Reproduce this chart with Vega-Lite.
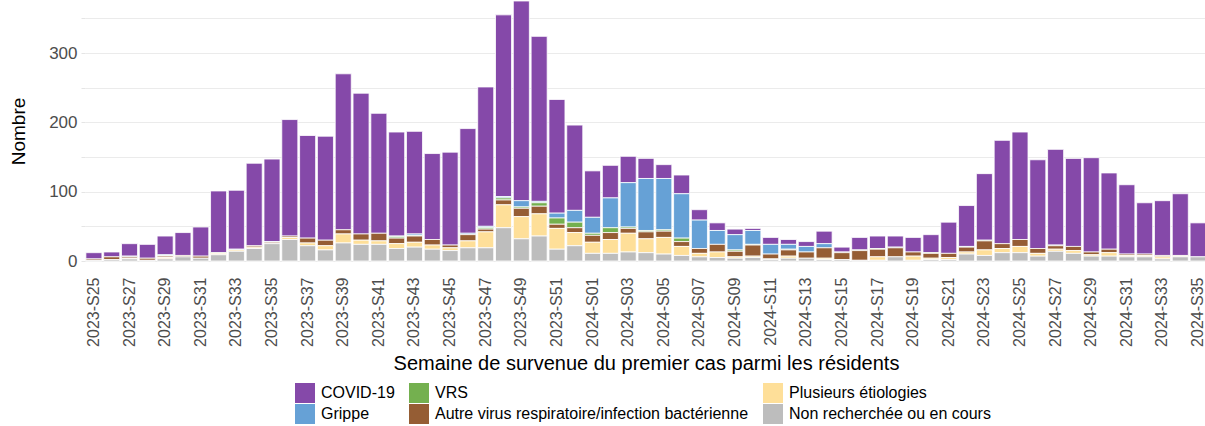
{
  "$schema": "https://vega.github.io/schema/vega-lite/v6.json",
  "width": 1122,
  "height": 260,
  "padding": {"left": 9, "top": 0, "right": 1, "bottom": 0},
  "background": "white",
  "config": {
    "font": "Liberation Sans",
    "view": {"stroke": null}
  },
  "data": {
    "values": [
      {"s": "2023-S25", "cov": 9, "aut": 2, "non": 1},
      {"s": "2023-S26", "cov": 7, "aut": 4, "non": 2},
      {"s": "2023-S27", "cov": 18, "gri": 1, "aut": 2, "plu": 1, "non": 3},
      {"s": "2023-S28", "cov": 20, "aut": 3, "non": 1},
      {"s": "2023-S29", "cov": 27, "gri": 1, "vrs": 1, "aut": 2, "plu": 2, "non": 3},
      {"s": "2023-S30", "cov": 33, "aut": 2, "non": 6},
      {"s": "2023-S31", "cov": 42, "aut": 3, "non": 4},
      {"s": "2023-S32", "cov": 89, "vrs": 1, "plu": 2, "non": 9},
      {"s": "2023-S33", "cov": 85, "gri": 1, "plu": 2, "non": 14},
      {"s": "2023-S34", "cov": 119, "aut": 2, "plu": 2, "non": 18},
      {"s": "2023-S35", "cov": 119, "gri": 1, "aut": 2, "non": 25},
      {"s": "2023-S36", "cov": 168, "aut": 2, "plu": 3, "non": 31},
      {"s": "2023-S37", "cov": 148, "aut": 7, "plu": 4, "non": 22},
      {"s": "2023-S38", "cov": 150, "aut": 8, "plu": 6, "non": 16},
      {"s": "2023-S39", "cov": 225, "aut": 6, "plu": 13, "non": 26},
      {"s": "2023-S40", "cov": 203, "aut": 9, "plu": 6, "non": 24},
      {"s": "2023-S41", "cov": 173, "aut": 11, "plu": 5, "non": 24},
      {"s": "2023-S42", "cov": 150, "gri": 1, "vrs": 2, "aut": 8, "plu": 7, "non": 18},
      {"s": "2023-S43", "cov": 148, "gri": 2, "vrs": 1, "aut": 9, "plu": 7, "non": 20},
      {"s": "2023-S44", "cov": 124, "aut": 8, "plu": 6, "non": 17},
      {"s": "2023-S45", "cov": 134, "aut": 4, "plu": 4, "non": 15},
      {"s": "2023-S46", "cov": 151, "gri": 2, "aut": 9, "plu": 10, "non": 19},
      {"s": "2023-S47", "cov": 201, "gri": 2, "vrs": 2, "aut": 4, "plu": 23, "non": 19},
      {"s": "2023-S48", "cov": 262, "gri": 2, "vrs": 3, "aut": 7, "plu": 33, "non": 48},
      {"s": "2023-S49", "cov": 288, "gri": 9, "vrs": 2, "aut": 12, "plu": 32, "non": 32},
      {"s": "2023-S50", "cov": 238, "gri": 2, "vrs": 5, "aut": 11, "plu": 32, "non": 36},
      {"s": "2023-S51", "cov": 164, "gri": 7, "vrs": 9, "aut": 6, "plu": 30, "non": 17},
      {"s": "2023-S52", "cov": 123, "gri": 17, "vrs": 8, "aut": 7, "plu": 19, "non": 22},
      {"s": "2024-S01", "cov": 67, "gri": 23, "vrs": 3, "aut": 10, "plu": 16, "non": 11},
      {"s": "2024-S02", "cov": 47, "gri": 43, "vrs": 7, "aut": 10, "plu": 20, "non": 11},
      {"s": "2024-S03", "cov": 38, "gri": 64, "vrs": 2, "aut": 7, "plu": 27, "non": 13},
      {"s": "2024-S04", "cov": 29, "gri": 75, "vrs": 2, "aut": 10, "plu": 20, "non": 12},
      {"s": "2024-S05", "cov": 20, "gri": 74, "vrs": 2, "aut": 9, "plu": 24, "non": 10},
      {"s": "2024-S06", "cov": 27, "gri": 64, "vrs": 5, "aut": 7, "plu": 13, "non": 8},
      {"s": "2024-S07", "cov": 15, "gri": 41, "aut": 7, "plu": 5, "non": 6},
      {"s": "2024-S08", "cov": 11, "gri": 20, "aut": 11, "plu": 8, "non": 5},
      {"s": "2024-S09", "cov": 8, "gri": 22, "vrs": 2, "aut": 8, "plu": 2, "non": 4},
      {"s": "2024-S10", "cov": 3, "gri": 20, "vrs": 1, "aut": 16, "plu": 2, "non": 5},
      {"s": "2024-S11", "cov": 10, "gri": 14, "aut": 7, "plu": 1, "non": 2},
      {"s": "2024-S12", "cov": 7, "gri": 7, "vrs": 1, "aut": 9, "plu": 3, "non": 4},
      {"s": "2024-S13", "cov": 7, "gri": 8, "aut": 9, "non": 4},
      {"s": "2024-S14", "cov": 18, "gri": 6, "aut": 15, "plu": 2, "non": 2},
      {"s": "2024-S15", "cov": 7, "gri": 1, "aut": 10, "non": 2},
      {"s": "2024-S16", "cov": 18, "vrs": 1, "aut": 14, "non": 1},
      {"s": "2024-S17", "cov": 18, "vrs": 1, "aut": 11, "plu": 5, "non": 1},
      {"s": "2024-S18", "cov": 16, "gri": 1, "aut": 13, "non": 6},
      {"s": "2024-S19", "cov": 21, "aut": 6, "plu": 6, "non": 1},
      {"s": "2024-S20", "cov": 26, "vrs": 1, "aut": 7, "plu": 2, "non": 2},
      {"s": "2024-S21", "cov": 45, "aut": 6, "plu": 3, "non": 2},
      {"s": "2024-S22", "cov": 59, "gri": 1, "aut": 7, "plu": 3, "non": 10},
      {"s": "2024-S23", "cov": 96, "vrs": 1, "aut": 13, "plu": 8, "non": 8},
      {"s": "2024-S24", "cov": 149, "aut": 7, "plu": 6, "non": 12},
      {"s": "2024-S25", "cov": 155, "aut": 10, "plu": 9, "non": 12},
      {"s": "2024-S26", "cov": 128, "aut": 7, "plu": 4, "non": 7},
      {"s": "2024-S27", "cov": 138, "gri": 1, "aut": 5, "plu": 3, "non": 14},
      {"s": "2024-S28", "cov": 127, "aut": 6, "plu": 4, "non": 11},
      {"s": "2024-S29", "cov": 136, "aut": 4, "plu": 2, "non": 7},
      {"s": "2024-S30", "cov": 110, "aut": 5, "plu": 5, "non": 7},
      {"s": "2024-S31", "cov": 100, "aut": 2, "plu": 2, "non": 6},
      {"s": "2024-S32", "cov": 74, "aut": 2, "plu": 2, "non": 6},
      {"s": "2024-S33", "cov": 79, "aut": 2, "plu": 3, "non": 3},
      {"s": "2024-S34", "cov": 89, "aut": 1, "plu": 1, "non": 6},
      {"s": "2024-S35", "cov": 49, "non": 6}
    ]
  },
  "transform": [
    {"fold": ["cov", "gri", "vrs", "aut", "plu", "non"], "as": ["cat", "n"]},
    {"filter": "datum.n > 0"},
    {"calculate": "indexof(['non','plu','aut','vrs','gri','cov'], datum.cat)", "as": "rang"}
  ],
  "mark": {"type": "bar", "stroke": "white", "strokeWidth": 0.8},
  "encoding": {
    "x": {
      "field": "s",
      "type": "ordinal",
      "sort": null,
      "scale": {"paddingInner": 0.1, "paddingOuter": 0.05},
      "axis": {
        "title": "Semaine de survenue du premier cas parmi les résidents",
        "titleFontSize": 20,
        "titleFontWeight": "normal",
        "titleColor": "black",
        "titlePadding": 7,
        "labelAngle": -90,
        "labelFontSize": 16,
        "labelColor": "#4d4d4d",
        "labelPadding": 16,
        "ticks": false,
        "domain": false,
        "grid": false,
        "values": ["2023-S25","2023-S27","2023-S29","2023-S31","2023-S33","2023-S35","2023-S37","2023-S39","2023-S41","2023-S43","2023-S45","2023-S47","2023-S49","2023-S51","2024-S01","2024-S03","2024-S05","2024-S07","2024-S09","2024-S11","2024-S13","2024-S15","2024-S17","2024-S19","2024-S21","2024-S23","2024-S25","2024-S27","2024-S29","2024-S31","2024-S33","2024-S35"]
      }
    },
    "y": {
      "field": "n",
      "type": "quantitative",
      "stack": "zero",
      "scale": {"domain": [0, 375], "nice": false},
      "axis": {
        "title": "Nombre",
        "titleFontSize": 19,
        "titleFontWeight": "normal",
        "titleColor": "black",
        "titlePadding": 20,
        "values": [0, 50, 100, 150, 200, 250, 300, 350],
        "labelExpr": "datum.value % 100 == 0 ? datum.label : ''",
        "labelFontSize": 17,
        "labelColor": "#4d4d4d",
        "labelPadding": 4,
        "tickSize": 4,
        "tickColor": "#e5e5e5",
        "domain": false,
        "gridColor": "#ebebeb",
        "gridWidth": 1
      }
    },
    "color": {
      "field": "cat",
      "type": "nominal",
      "scale": {
        "domain": ["cov", "vrs", "plu", "gri", "aut", "non"],
        "range": ["#8549a9", "#74b04f", "#fedf99", "#66a1d6", "#955d34", "#bdbdbd"]
      },
      "legend": {
        "title": null,
        "orient": "none",
        "legendX": 210,
        "legendY": 382,
        "direction": "horizontal",
        "columns": 3,
        "symbolType": "square",
        "symbolSize": 400,
        "symbolStrokeWidth": 0,
        "labelFontSize": 16,
        "labelLimit": 500,
        "labelColor": "black",
        "labelOffset": 6,
        "columnPadding": 14,
        "rowPadding": 1,
        "labelExpr": "datum.label == 'cov' ? 'COVID-19' : datum.label == 'gri' ? 'Grippe' : datum.label == 'vrs' ? 'VRS' : datum.label == 'aut' ? 'Autre virus respiratoire/infection bactérienne' : datum.label == 'plu' ? 'Plusieurs étiologies' : 'Non recherchée ou en cours'"
      }
    },
    "order": {"field": "rang", "type": "quantitative", "sort": "ascending"}
  }
}
